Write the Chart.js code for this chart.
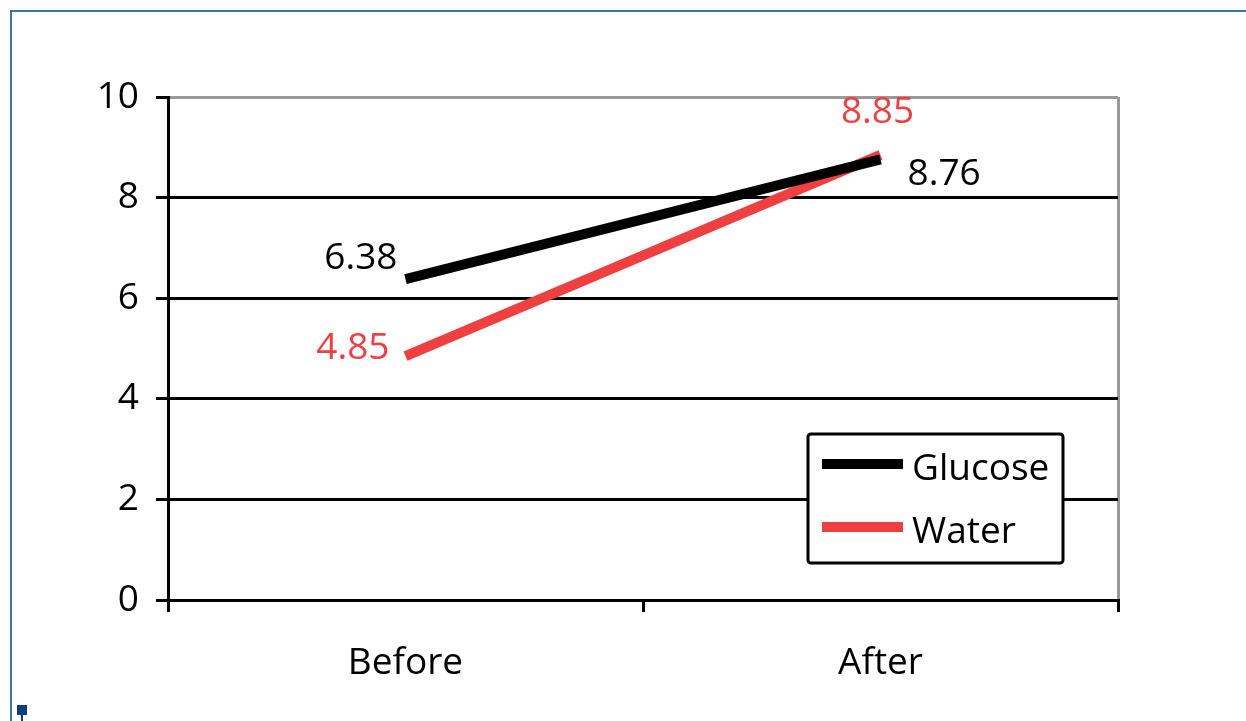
<!DOCTYPE html>
<html>
<head>
<meta charset="utf-8">
<script src="https://cdn.jsdelivr.net/npm/chart.js@4/dist/chart.umd.min.js"></script>
<style>
body { margin: 0; background: #fff; }
#wrap { position: relative; width: 1246px; height: 721px; overflow: hidden; }
#frame { position: absolute; left: 10px; top: 10px; width: 1300px; height: 800px; border-left: 2px solid #4072a8; border-top: 2px solid #4072a8; }
#mark { position: absolute; left: 17px; top: 705px; width: 10px; height: 10px; background: #0b3f7c; }
#mark2 { position: absolute; left: 21px; top: 714px; width: 2px; height: 7px; background: #0b3f7c; }
canvas { position: absolute; left: 0; top: 0; }
</style>
</head>
<body>
<div id="wrap">
  <div id="frame"></div>
  <div id="mark"></div>
  <div id="mark2"></div>
  <canvas id="canvas" width="1246" height="721"></canvas>
</div>
<script>
var categories = ['Before', 'After'];
var glucose = [6.38, 8.76];
var water = [4.85, 8.85];
var yTicks = [0, 2, 4, 6, 8, 10];

var FONT = "'Open Sans', sans-serif";
var FS = 37;
var RED = '#ee4040';

// where each value label sits relative to its point
var labelPos = [
  [{dx: -8, dy: -21, align: 'right'}, {dx: 27, dy: 15, align: 'left'}],
  [{dx: -16, dy: -8, align: 'right'}, {dx: -3, dy: -42, align: 'center'}]
];

var valueLabels = {
  id: 'valueLabels',
  afterDatasetsDraw: function(chart) {
    var ctx = chart.ctx;
    ctx.save();
    ctx.font = FS + 'px ' + FONT;
    ctx.textBaseline = 'middle';
    chart.data.datasets.forEach(function(ds, i) {
      chart.getDatasetMeta(i).data.forEach(function(pt, j) {
        var o = labelPos[i][j];
        ctx.fillStyle = ds.borderColor;
        ctx.textAlign = o.align;
        ctx.fillText(ds.data[j].toFixed(2), pt.x + o.dx, pt.y + o.dy);
      });
    });
    ctx.restore();
  }
};

var boxLegend = {
  id: 'boxLegend',
  afterDraw: function(chart) {
    var ctx = chart.ctx;
    var a = chart.chartArea;
    var x = a.right - 310, y = a.bottom - 166, w = 255, h = 129;
    ctx.save();
    ctx.fillStyle = '#fff';
    ctx.strokeStyle = '#000';
    ctx.lineWidth = 3;
    ctx.beginPath();
    ctx.roundRect(x, y, w, h, 3);
    ctx.fill();
    ctx.stroke();
    ctx.font = FS + 'px ' + FONT;
    ctx.textBaseline = 'middle';
    ctx.textAlign = 'left';
    chart.data.datasets.forEach(function(ds, i) {
      var ly = y + 30 + i * 63;
      ctx.strokeStyle = ds.borderColor;
      ctx.lineWidth = 10;
      ctx.beginPath();
      ctx.moveTo(x + 14, ly);
      ctx.lineTo(x + 95, ly);
      ctx.stroke();
      ctx.fillStyle = '#000';
      ctx.fillText(ds.label, x + 104, ly + 5);
    });
    ctx.restore();
  }
};

const ctx = document.getElementById('canvas');
const myChart = new Chart(ctx, {
  type: 'line',
  data: {
    labels: categories,
    datasets: [{
      label: 'Glucose',
      data: glucose,
      borderColor: '#000',
      borderWidth: 10,
      pointRadius: 0,
      borderCapStyle: 'butt'
    }, {
      label: 'Water',
      data: water,
      borderColor: RED,
      borderWidth: 10,
      pointRadius: 0,
      borderCapStyle: 'butt'
    }]
  },
  options: {
    responsive: false,
    devicePixelRatio: 1,
    animation: false,
    layout: { padding: { top: 97, right: 128, left: 0, bottom: 0 } },
    plugins: { legend: { display: false }, tooltip: { enabled: false } },
    scales: {
      x: {
        offset: true,
        grid: {
          offset: true,
          color: function(c) { return c.type === 'tick' ? 'rgba(0,0,0,0)' : '#999'; },
          lineWidth: 3,
          tickColor: '#000',
          tickLength: 12
        },
        border: { color: '#000', width: 3 },
        ticks: { color: '#000', font: { family: FONT, size: FS }, padding: 29 },
        afterFit: function(s) { s.height = 121; }
      },
      y: {
        min: 0,
        max: 10,
        afterBuildTicks: function(s) { s.ticks = yTicks.map(function(v) { return {value: v}; }); },
        grid: {
          color: function(c) { return c.tick && c.tick.value === 10 ? '#999' : '#000'; },
          lineWidth: 3,
          tickColor: '#000',
          tickLength: 12
        },
        border: { color: '#000', width: 3 },
        ticks: { color: '#000', font: { family: FONT, size: FS }, padding: 17 },
        afterFit: function(s) { s.width = 168; }
      }
    }
  },
  plugins: [valueLabels, boxLegend]
});
</script>
</body>
</html>
